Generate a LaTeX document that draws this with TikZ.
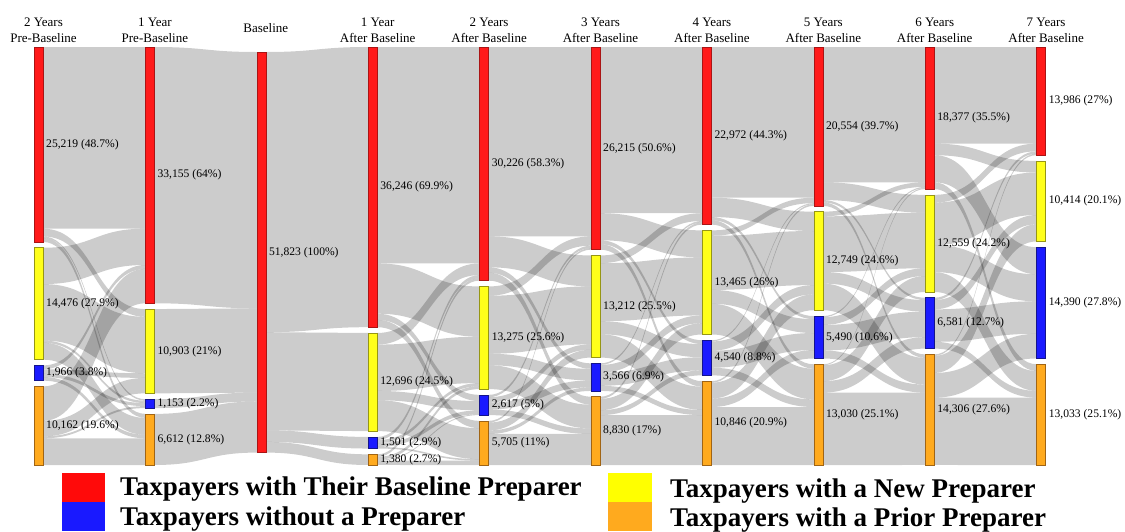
\documentclass[tikz,border=0pt]{standalone}
\usepackage{fontspec}
\setmainfont{Liberation Serif}
\usetikzlibrary{calc}

\definecolor{cR}{RGB}{255,26,26}
\definecolor{cRd}{RGB}{170,20,20}
\definecolor{cY}{RGB}{255,255,26}
\definecolor{cYd}{RGB}{150,150,20}
\definecolor{cB}{RGB}{26,26,255}
\definecolor{cBd}{RGB}{20,20,140}
\definecolor{cO}{RGB}{255,170,30}
\definecolor{cOd}{RGB}{160,100,20}
\definecolor{kR}{RGB}{255,10,10}
\definecolor{kB}{RGB}{25,25,255}
\definecolor{kY}{RGB}{255,255,0}
\definecolor{kO}{RGB}{255,170,30}

\pgfdeclarelayer{paper}
\pgfdeclarelayer{ribbons}
\pgfsetlayers{paper,ribbons,main}

% value store
\newcommand\sv[2]{\expandafter\xdef\csname#1\endcsname{#2}}
\newcommand\gv[1]{\csname#1\endcsname}
\newcommand\lab[2]{\expandafter\def\csname L#1\endcsname{#2}}
\newcommand\frow[6]{\sv{F#1-#2-1}{#3}\sv{F#1-#2-2}{#4}\sv{F#1-#2-3}{#5}\sv{F#1-#2-4}{#6}}

\def\pxper{0.00773}% px per taxpayer
\def\gapsz{5.8}%     gap between stacked nodes

% column totals (1 = baseline preparer, 2 = new, 3 = none, 4 = prior)
\sv{N0-1}{25219}\sv{N0-2}{14476}\sv{N0-3}{1966}\sv{N0-4}{10162}
\sv{N1-1}{33155}\sv{N1-2}{10903}\sv{N1-3}{1153}\sv{N1-4}{6612}
\sv{N2-1}{51823}\sv{N2-2}{0}\sv{N2-3}{0}\sv{N2-4}{0}
\sv{N3-1}{36246}\sv{N3-2}{12696}\sv{N3-3}{1501}\sv{N3-4}{1380}
\sv{N4-1}{30226}\sv{N4-2}{13275}\sv{N4-3}{2617}\sv{N4-4}{5705}
\sv{N5-1}{26215}\sv{N5-2}{13212}\sv{N5-3}{3566}\sv{N5-4}{8830}
\sv{N6-1}{22972}\sv{N6-2}{13465}\sv{N6-3}{4540}\sv{N6-4}{10846}
\sv{N7-1}{20554}\sv{N7-2}{12749}\sv{N7-3}{5490}\sv{N7-4}{13030}
\sv{N8-1}{18377}\sv{N8-2}{12559}\sv{N8-3}{6581}\sv{N8-4}{14306}
\sv{N9-1}{13986}\sv{N9-2}{10414}\sv{N9-3}{14390}\sv{N9-4}{13033}

% node labels
\lab{0-1}{25,219 (48.7\%)}\lab{0-2}{14,476 (27.9\%)}\lab{0-3}{1,966 (3.8\%)}\lab{0-4}{10,162 (19.6\%)}
\lab{1-1}{33,155 (64\%)}\lab{1-2}{10,903 (21\%)}\lab{1-3}{1,153 (2.2\%)}\lab{1-4}{6,612 (12.8\%)}
\lab{2-1}{51,823 (100\%)}
\lab{3-1}{36,246 (69.9\%)}\lab{3-2}{12,696 (24.5\%)}\lab{3-3}{1,501 (2.9\%)}\lab{3-4}{1,380 (2.7\%)}
\lab{4-1}{30,226 (58.3\%)}\lab{4-2}{13,275 (25.6\%)}\lab{4-3}{2,617 (5\%)}\lab{4-4}{5,705 (11\%)}
\lab{5-1}{26,215 (50.6\%)}\lab{5-2}{13,212 (25.5\%)}\lab{5-3}{3,566 (6.9\%)}\lab{5-4}{8,830 (17\%)}
\lab{6-1}{22,972 (44.3\%)}\lab{6-2}{13,465 (26\%)}\lab{6-3}{4,540 (8.8\%)}\lab{6-4}{10,846 (20.9\%)}
\lab{7-1}{20,554 (39.7\%)}\lab{7-2}{12,749 (24.6\%)}\lab{7-3}{5,490 (10.6\%)}\lab{7-4}{13,030 (25.1\%)}
\lab{8-1}{18,377 (35.5\%)}\lab{8-2}{12,559 (24.2\%)}\lab{8-3}{6,581 (12.7\%)}\lab{8-4}{14,306 (27.6\%)}
\lab{9-1}{13,986 (27\%)}\lab{9-2}{10,414 (20.1\%)}\lab{9-3}{14,390 (27.8\%)}\lab{9-4}{13,033 (25.1\%)}

% transitions: \frow{step}{from}{to 1}{to 2}{to 3}{to 4}
\frow{0}{1}{23500}{1000}{200}{519}
\frow{0}{2}{4700}{7300}{300}{2176}
\frow{0}{3}{500}{600}{400}{466}
\frow{0}{4}{4455}{2003}{253}{3451}
\frow{1}{1}{33155}{0}{0}{0}
\frow{1}{2}{10903}{0}{0}{0}
\frow{1}{3}{1153}{0}{0}{0}
\frow{1}{4}{6612}{0}{0}{0}
\frow{2}{1}{36246}{12696}{1501}{1380}
\frow{2}{2}{0}{0}{0}{0}
\frow{2}{3}{0}{0}{0}{0}
\frow{2}{4}{0}{0}{0}{0}
\frow{3}{1}{28000}{6500}{800}{946}
\frow{3}{2}{1500}{6000}{1200}{3996}
\frow{3}{3}{400}{400}{500}{201}
\frow{3}{4}{326}{375}{117}{562}
\frow{4}{1}{24500}{4000}{700}{1026}
\frow{4}{2}{1200}{7500}{1500}{3075}
\frow{4}{3}{300}{700}{900}{717}
\frow{4}{4}{215}{1012}{466}{4012}
\frow{5}{1}{21500}{3500}{500}{715}
\frow{5}{2}{1000}{7500}{1700}{3012}
\frow{5}{3}{200}{1000}{1700}{666}
\frow{5}{4}{272}{1465}{640}{6453}
\frow{6}{1}{19500}{2500}{400}{572}
\frow{6}{2}{700}{7000}{1800}{3965}
\frow{6}{3}{150}{1200}{2200}{990}
\frow{6}{4}{204}{2049}{1090}{7503}
\frow{7}{1}{17500}{2300}{300}{454}
\frow{7}{2}{600}{7200}{1500}{3449}
\frow{7}{3}{150}{1000}{3300}{1040}
\frow{7}{4}{127}{2059}{1481}{9363}
\frow{8}{1}{12500}{1500}{3500}{877}
\frow{8}{2}{1000}{5500}{3500}{2559}
\frow{8}{3}{300}{1200}{4200}{881}
\frow{8}{4}{186}{2214}{3190}{8716}

\begin{document}
\begin{tikzpicture}[x=1pt,y=-1pt,
  sbar/.style={inner sep=0pt,outer sep=0pt,minimum width=9pt,anchor=north west,line width=0.6pt},
  cat1/.style={fill=cR,draw=cRd},
  cat2/.style={fill=cY,draw=cYd},
  cat3/.style={fill=cB,draw=cBd},
  cat4/.style={fill=cO,draw=cOd},
  sflow/.style={fill=black,fill opacity=0.2},
  slabel/.style={inner sep=0pt,anchor=west,font=\fontsize{11.6}{14}\selectfont},
  shead/.style={inner sep=0pt,anchor=base,font=\fontsize{13}{16}\selectfont},
  kbox/.style={inner sep=0pt,outer sep=0pt,minimum width=43pt,minimum height=29pt,anchor=north west},
  ktext/.style={inner sep=0pt,anchor=base west,font=\fontsize{27}{30}\selectfont\bfseries}]
\useasboundingbox (0,0) rectangle (1125,531);
\begin{pgfonlayer}{paper}
\fill[white] (0,0) rectangle (1125,531);
\end{pgfonlayer}

% stacked node positions
\foreach \c in {0,...,9}{%
  \ifnum\c=2 \sv{cur}{52}\else\sv{cur}{47}\fi
  \foreach \k in {1,...,4}{%
    \sv{T\c-\k}{\fpeval{round(\gv{cur},3)}}%
    \sv{cur}{\fpeval{\gv{cur}+\pxper*\gv{N\c-\k}+\gapsz}}%
  }%
}

% nodes and their labels
\foreach \c in {0,...,9}{%
  \foreach \k in {1,...,4}{%
    \ifnum\fpeval{\gv{N\c-\k}>0}=1
      \edef\hh{\fpeval{round(\pxper*\gv{N\c-\k},3)}}%
      \node[sbar,cat\k,minimum height=\hh pt] (n-\c-\k) at ({34+111.4*\c},\gv{T\c-\k}) {};
      \node[slabel] (l-\c-\k) at ([xshift=3pt]n-\c-\k.east) {\gv{L\c-\k}};
    \fi
  }%
}

% ribbons between consecutive columns
\begin{pgfonlayer}{ribbons}
\foreach \i in {0,...,8}{%
  \pgfmathtruncatemacro\j{\i+1}%
  \foreach \b in {1,...,4}{\sv{TO-\b}{0}}%
  \foreach \a in {1,...,4}{%
    \sv{SO}{0}%
    \foreach \b in {1,...,4}{%
      \edef\fv{\gv{F\i-\a-\b}}%
      \ifnum\fpeval{\fv>0}=1
        \edef\ya{\fpeval{round(\gv{SO},3)}}%
        \edef\yb{\fpeval{round(\gv{SO}+\pxper*\fv,3)}}%
        \edef\za{\fpeval{round(\gv{TO-\b},3)}}%
        \edef\zb{\fpeval{round(\gv{TO-\b}+\pxper*\fv,3)}}%
        \coordinate (s0) at ([yshift=-\ya pt]n-\i-\a.north east);
        \coordinate (s1) at ([yshift=-\yb pt]n-\i-\a.north east);
        \coordinate (t0) at ([yshift=-\za pt]n-\j-\b.north west);
        \coordinate (t1) at ([yshift=-\zb pt]n-\j-\b.north west);
        \coordinate (m) at ($(s0)!0.5!(t0)$);
        \fill[sflow] (s0) .. controls (m |- s0) and (m |- t0) .. (t0)
          -- (t1) .. controls (m |- t1) and (m |- s1) .. (s1) -- cycle;
      \fi
      \sv{SO}{\fpeval{\gv{SO}+\pxper*\fv}}%
      \sv{TO-\b}{\fpeval{\gv{TO-\b}+\pxper*\fv}}%
    }%
  }%
}
\end{pgfonlayer}

% column headings
\foreach \c/\la/\lb in {0/2 Years/Pre-Baseline,1/1 Year/Pre-Baseline,
    3/1 Year/After Baseline,4/2 Years/After Baseline,5/3 Years/After Baseline,
    6/4 Years/After Baseline,7/5 Years/After Baseline,8/6 Years/After Baseline,
    9/7 Years/After Baseline}{%
  \node[shead] (ha-\c) at ({34+111.4*\c+9.5},26) {\la};
  \node[shead] (hb-\c) at ({34+111.4*\c+9.5},42) {\lb};
}
\node[shead] (ha-2) at ({34+111.4*2+9},32.5) {Baseline};

% legend
\node[kbox,fill=kR] (k-R) at (62,473) {};
\node[kbox,fill=kB] (k-B) at (62,502) {};
\node[kbox,fill=kY,minimum width=44pt] (k-Y) at (608,473) {};
\node[kbox,fill=kO,minimum width=44pt] (k-O) at (608,502) {};
\node[ktext] (t-R) at (120,495) {Taxpayers with Their Baseline Preparer};
\node[ktext] (t-B) at (120,525) {Taxpayers without a Preparer};
\node[ktext] (t-Y) at (670,497) {Taxpayers with a New Preparer};
\node[ktext] (t-O) at (670,526) {Taxpayers with a Prior Preparer};
\end{tikzpicture}
\end{document}
